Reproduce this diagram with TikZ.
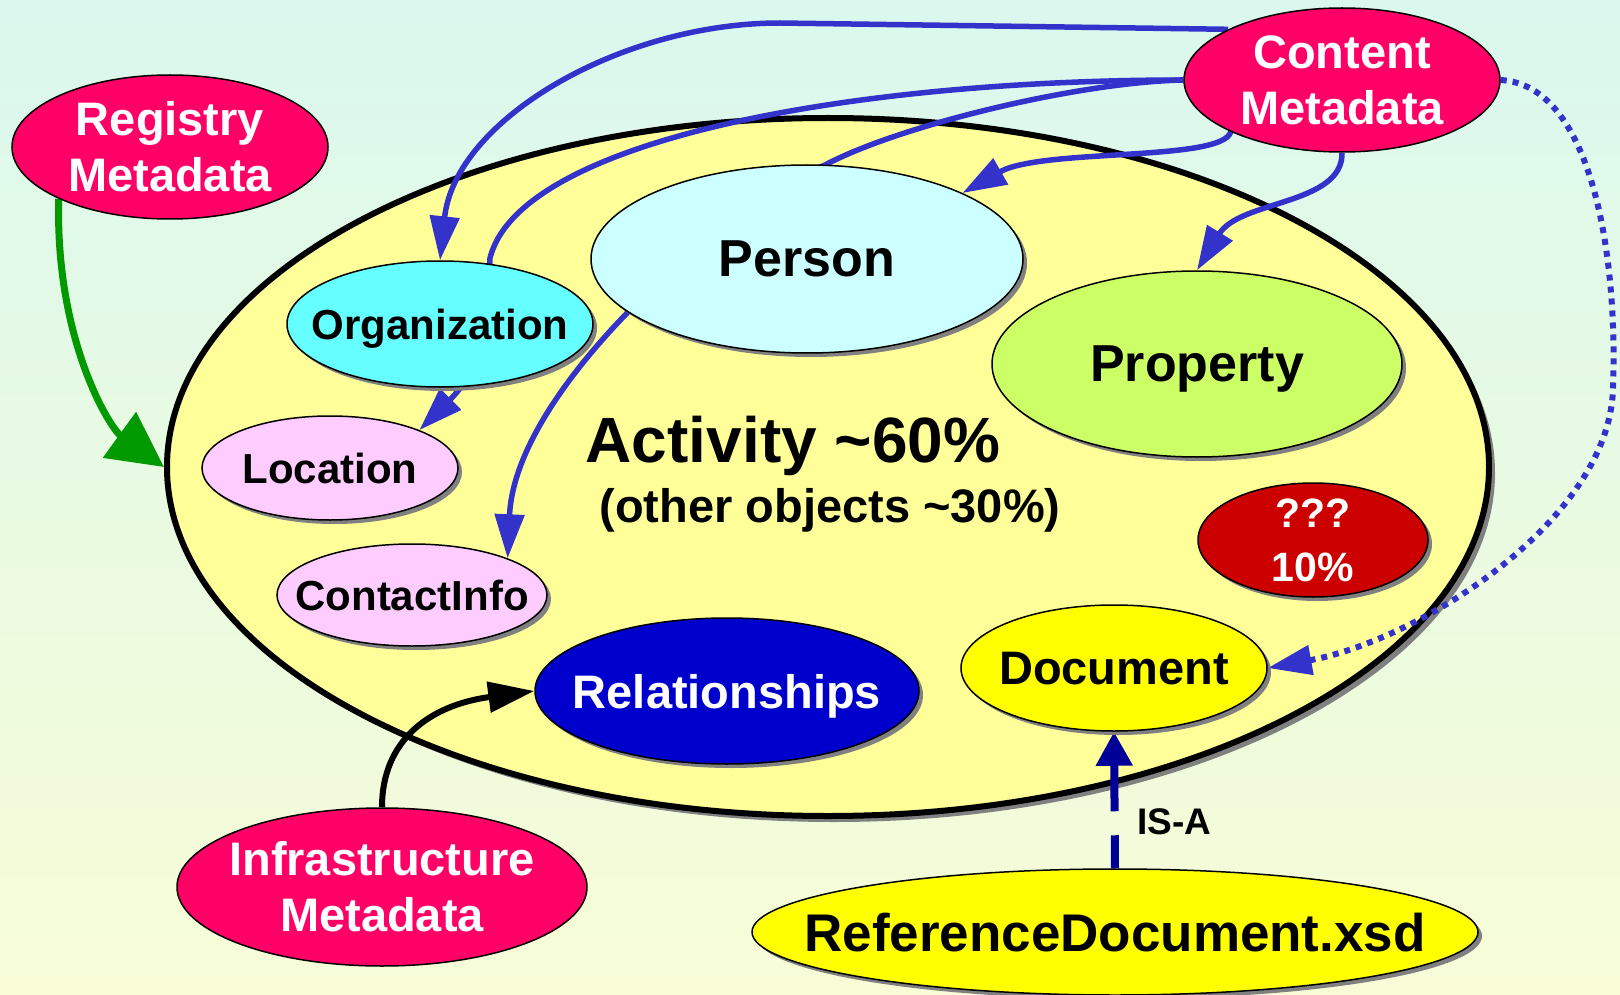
\documentclass[tikz,border=0pt]{standalone}
\usepackage{fontspec}
\setmainfont{Liberation Sans}
\usetikzlibrary{shapes.geometric,arrows.meta,shadows}

\definecolor{bgtop}{HTML}{DAF8EE}
\definecolor{bgbot}{HTML}{F7FCD6}
\definecolor{actyellow}{HTML}{FFFF99}
\definecolor{metared}{HTML}{FF0066}
\definecolor{personcyan}{HTML}{CCFFFF}
\definecolor{orgcyan}{HTML}{66FFFF}
\definecolor{pinkish}{HTML}{FFCCFF}
\definecolor{propgreen}{HTML}{CCFF66}
\definecolor{unkred}{HTML}{CC0000}
\definecolor{docyellow}{HTML}{FFFF00}
\definecolor{relblue}{HTML}{0000CC}
\definecolor{linkblue}{HTML}{3333CC}
\definecolor{reggreen}{HTML}{009900}
\definecolor{isablue}{HTML}{000099}
\definecolor{shadowgray}{HTML}{808080}

\newcommand{\fsz}[2]{\fontsize{#1}{#2}\selectfont}

\pgfdeclarelayer{background}
\pgfdeclarelayer{behind}
\pgfsetlayers{background,behind,main}

\tikzset{
  blob/.style={ellipse, draw=black, line width=1.5pt, inner sep=-200pt},
  inner/.style={blob, drop shadow={shadow xshift=4pt, shadow yshift=-4pt, fill=shadowgray, opacity=1}},
  meta/.style={blob, fill=metared, text=white, align=center, font=\bfseries\fsz{47}{56}, minimum width=316pt, minimum height=144pt},
  txtbig/.style={font=\bfseries\fsz{52}{60}, text depth=0pt},
  txtmid/.style={font=\bfseries\fsz{47}{56}, text depth=0pt},
  txtsmall/.style={font=\bfseries\fsz{42}{50}, text depth=0pt},
  link/.style={draw=linkblue, line width=5.5pt, -{Triangle[length=44pt,width=29pt]}},
  regarrow/.style={draw=reggreen, line width=7pt, -{Triangle[length=55pt,width=55pt]}},
  infarrow/.style={draw=black, line width=6pt, -{Triangle[length=46pt,width=30pt]}},
  isa/.style={draw=isablue, line width=8pt, dash pattern=on 33pt off 24pt on 200pt off 1pt, -{Triangle[length=34pt,width=35pt]}},
}

\begin{document}
\begin{tikzpicture}[x=1pt, y=-1pt]
\useasboundingbox (0,0) rectangle (1620,995);
\begin{pgfonlayer}{background}
\shade[top color=bgtop, bottom color=bgbot] (0,0) rectangle (1620,995);
\node[blob, fill=actyellow, line width=6pt, minimum width=1322pt, minimum height=698pt,
  drop shadow={shadow xshift=6pt, shadow yshift=-6pt, fill=shadowgray, opacity=1}] (act) at (828,467) {};
\end{pgfonlayer}

\node[meta] (reg) at (170,147) {Registry\\Metadata};
\node[meta] (cm) at (1342,80) {Content\\Metadata};
\node[meta, minimum width=410pt, minimum height=158pt] (infra) at (382,887) {Infrastructure\\Metadata};

\node[font=\bfseries\fsz{64}{70}, anchor=base] (actname) at (793,462) {Activity \textasciitilde60\%};
\node[font=\bfseries\fsz{47}{52}, anchor=base] (others) at (830,522) {(other objects \textasciitilde30\%)};

\node[inner, txtbig, fill=personcyan, minimum width=432pt, minimum height=188pt] (person) at (807,259) {Person};
\node[inner, txtsmall, fill=orgcyan, minimum width=306pt, minimum height=126pt] (org) at (440,324) {Organization};
\node[inner, txtsmall, fill=pinkish, minimum width=256pt, minimum height=104pt] (loc) at (330,468) {Location};
\node[inner, txtsmall, fill=pinkish, minimum width=270pt, minimum height=102pt] (ci) at (412,595) {ContactInfo};
\node[inner, txtbig, fill=propgreen, minimum width=410pt, minimum height=186pt] (prop) at (1197,364) {Property};
\node[inner, fill=unkred, text=white, align=center, font=\bfseries\fsz{41}{54}, minimum width=230pt, minimum height=114pt] (unk) at (1313,540) {???\\10\%};
\node[inner, txtmid, fill=docyellow, minimum width=306pt, minimum height=126pt] (doc) at (1114,668) {Document};
\node[inner, txtmid, fill=relblue, text=white, minimum width=384pt, minimum height=146pt] (rel) at (727,691) {Relationships};
\node[inner, fill=docyellow, font=\bfseries\fsz{53}{60}, text depth=0pt, minimum width=726pt, minimum height=126pt] (ref) at (1115,932) {ReferenceDocument.xsd};

\begin{pgfonlayer}{behind}
\draw[regarrow] (reg.205) .. controls (55,340) and (110,428) .. (act.west);
\draw[link] (cm.156) -- (780,23) .. controls (620,23) and (455,120) .. (org.north);
\draw[link] (cm.west) .. controls (850,80) and (520,140) .. (490,258) .. controls (488,330) and (480,370) .. (loc.23);
\draw[link] (cm.west) .. controls (1080,82) and (900,125) .. (825,165) .. controls (720,210) and (515,390) .. (ci.21);
\draw[link] (cm.205) .. controls (1222,162) and (1042,148) .. (person.23);
\draw[link] (cm.south) .. controls (1343,205) and (1240,200) .. (prop.north);
\draw[link, line width=6pt, dash pattern=on 6pt off 6pt] (cm.east) .. controls (1590,85) and (1618,250) .. (1613,388)
  .. controls (1610,520) and (1420,640) .. (doc.east);
\draw[infarrow] (infra.north) .. controls (382,740) and (430,705) .. (rel.west);
\draw[isa] (ref.north) -- node[pos=0.34, right=17pt, inner sep=2pt, font=\bfseries\fsz{37}{40}] (isalabel) {IS-A} (doc.south);
\end{pgfonlayer}
\end{tikzpicture}
\end{document}
